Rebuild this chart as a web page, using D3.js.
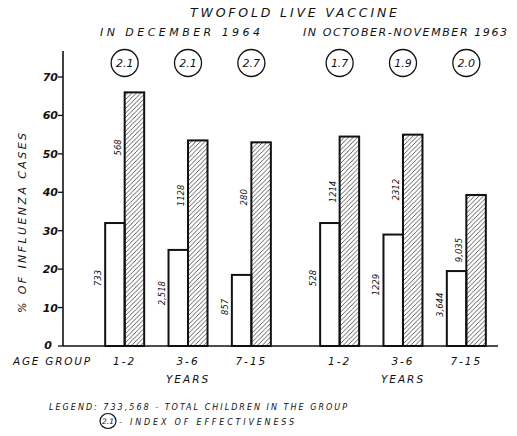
<!DOCTYPE html>
<html>
<head>
<meta charset="utf-8">
<script src="https://cdn.jsdelivr.net/npm/d3@7"></script>
<style>
  body { margin: 0; background: #fff; }
  svg text { font-family: "DejaVu Sans", sans-serif; font-style: italic; fill: #111; }
</style>
</head>
<body>
<div id="chart"></div>
<script>
// values
var campaigns = ["IN DECEMBER 1964", "IN OCTOBER-NOVEMBER 1963"];
var ageGroups = ["1-2", "3-6", "7-15"];
var vaccinatedPct = [[32, 25, 18.5], [32, 29, 19.5]];
var controlPct = [[66, 53.5, 53], [54.5, 55, 39.3]];
var vaccinatedN = [["733", "2,518", "857"], ["528", "1229", "3,644"]];
var controlN = [["568", "1128", "280"], ["1214", "2312", "9,035"]];
var effIndex = [["2.1", "2.1", "2.7"], ["1.7", "1.9", "2.0"]];
var yTicks = [0, 10, 20, 30, 40, 50, 60, 70];

var width = 517, height = 436;
var svg = d3.select("#chart").append("svg")
    .attr("width", width)
    .attr("height", height);

var axisX = 63, baseY = 346;

var y = d3.scaleLinear()
    .domain([0, 70])
    .range([baseY, 77]);

var x0 = d3.scaleBand()
    .domain(campaigns)
    .range([93, 498])
    .paddingInner(0.116);

var x1 = d3.scaleBand()
    .domain(ageGroups)
    .range([0, x0.bandwidth()]);

var barW = 19.5;

// hatch pattern
svg.append("defs").append("pattern")
    .attr("id", "hatch")
    .attr("patternUnits", "userSpaceOnUse")
    .attr("width", 4.5)
    .attr("height", 4.5)
  .append("path")
    .attr("d", "M-1,1 l2,-2 M0,4.5 l4.5,-4.5 M3.5,5.5 l2,-2")
    .attr("stroke", "#333")
    .attr("stroke-width", 0.8);

// flatten
var items = [];
campaigns.forEach(function(c, ci) {
  ageGroups.forEach(function(a, ai) {
    items.push({
      campaign: c, age: a,
      cx: x0(c) + x1(a) + x1.bandwidth() / 2,
      vac: vaccinatedPct[ci][ai], ctl: controlPct[ci][ai],
      vacN: vaccinatedN[ci][ai], ctlN: controlN[ci][ai],
      idx: effIndex[ci][ai]
    });
  });
});

// y axis
svg.append("line")
    .attr("x1", axisX).attr("x2", axisX)
    .attr("y1", y(0)).attr("y2", 51)
    .attr("stroke", "#111").attr("stroke-width", 1.6);

svg.selectAll(".ytick").data(yTicks).enter().append("line")
    .attr("class", "ytick")
    .attr("x1", axisX - 5).attr("x2", axisX)
    .attr("y1", function(d) { return y(d); })
    .attr("y2", function(d) { return y(d); })
    .attr("stroke", "#111").attr("stroke-width", 1.3);

svg.selectAll(".ylab").data(yTicks).enter().append("text")
    .attr("class", "ylab")
    .attr("x", function(d) { return d === 0 ? axisX - 11 : axisX - 5; })
    .attr("y", function(d) { return y(d) + (d === 0 ? 3 : 4); })
    .attr("text-anchor", "end")
    .attr("font-size", 11)
    .attr("font-weight", "bold")
    .text(function(d) { return d; });

svg.append("text")
    .attr("transform", "translate(26,223) rotate(-90)")
    .attr("text-anchor", "middle")
    .attr("font-size", 11)
    .attr("textLength", 180)
    .attr("lengthAdjust", "spacing")
    .text("% OF INFLUENZA CASES");

// bars
var g = svg.selectAll(".grp").data(items).enter().append("g").attr("class", "grp");

g.append("rect")
    .attr("x", function(d) { return d.cx - barW; })
    .attr("y", function(d) { return y(d.vac); })
    .attr("width", barW)
    .attr("height", function(d) { return y(0) - y(d.vac); })
    .attr("fill", "#fff")
    .attr("stroke", "#111").attr("stroke-width", 2);

g.append("rect")
    .attr("x", function(d) { return d.cx; })
    .attr("y", function(d) { return y(d.ctl); })
    .attr("width", barW)
    .attr("height", function(d) { return y(0) - y(d.ctl); })
    .attr("fill", "url(#hatch)")
    .attr("stroke", "#111").attr("stroke-width", 2);

function labOff(v) {
  var h = y(0) - y(v);
  return Math.min(55, h * 0.45);
}

g.append("text")
    .attr("transform", function(d) {
      return "translate(" + (d.cx - barW - 4) + "," + (y(d.vac) + labOff(d.vac)) + ") rotate(-90)";
    })
    .attr("text-anchor", "middle")
    .attr("font-size", 8.5)
    .text(function(d) { return d.vacN; });

g.append("text")
    .attr("transform", function(d) {
      return "translate(" + (d.cx - 4) + "," + (y(d.ctl) + labOff(d.ctl)) + ") rotate(-90)";
    })
    .attr("text-anchor", "middle")
    .attr("font-size", 8.5)
    .text(function(d) { return d.ctlN; });

// index circles
g.append("ellipse")
    .attr("cx", function(d) { return d.cx; })
    .attr("cy", 63)
    .attr("rx", 13.5).attr("ry", 13.5)
    .attr("fill", "none").attr("stroke", "#111").attr("stroke-width", 1.3);

g.append("text")
    .attr("x", function(d) { return d.cx; })
    .attr("y", 67)
    .attr("text-anchor", "middle")
    .attr("font-size", 11)
    .text(function(d) { return d.idx; });

// age labels
g.append("text")
    .attr("x", function(d) { return d.cx; })
    .attr("y", 365)
    .attr("text-anchor", "middle")
    .attr("font-size", 10.5)
    .attr("letter-spacing", 2)
    .text(function(d) { return d.age; });

// baseline
svg.append("line")
    .attr("x1", axisX).attr("x2", 498)
    .attr("y1", y(0)).attr("y2", y(0))
    .attr("stroke", "#111").attr("stroke-width", 1.6);

svg.append("text")
    .attr("x", 13).attr("y", 365)
    .attr("font-size", 10.5)
    .attr("textLength", 77)
    .attr("lengthAdjust", "spacing")
    .text("AGE GROUP");

svg.selectAll(".years").data(campaigns).enter().append("text")
    .attr("x", function(d) { return x0(d) + x0.bandwidth() / 2; })
    .attr("y", 383)
    .attr("text-anchor", "middle")
    .attr("font-size", 10.5)
    .attr("letter-spacing", 2)
    .text("YEARS");

// titles
svg.append("text")
    .attr("x", 190).attr("y", 17)
    .attr("font-size", 12.5)
    .attr("textLength", 207)
    .attr("lengthAdjust", "spacing")
    .text("TWOFOLD LIVE VACCINE");

svg.selectAll(".camp").data(campaigns).enter().append("text")
    .attr("x", function(d, i) { return i === 0 ? 100 : 303; })
    .attr("y", 36)
    .attr("font-size", 11)
    .attr("textLength", function(d, i) { return i === 0 ? 160 : 204; })
    .attr("lengthAdjust", "spacing")
    .text(function(d) { return d; });

// legend
svg.append("text")
    .attr("x", 49).attr("y", 410)
    .attr("font-size", 8)
    .attr("textLength", 298)
    .attr("lengthAdjust", "spacing")
    .text("LEGEND:  733,568 - TOTAL CHILDREN IN THE GROUP");

svg.append("ellipse")
    .attr("cx", 108).attr("cy", 421)
    .attr("rx", 8).attr("ry", 7.5)
    .attr("fill", "none").attr("stroke", "#111").attr("stroke-width", 1.2);
svg.append("text")
    .attr("x", 108).attr("y", 424)
    .attr("text-anchor", "middle")
    .attr("font-size", 7.5)
    .text("2.1");
svg.append("text")
    .attr("x", 119).attr("y", 425)
    .attr("font-size", 8)
    .attr("textLength", 175)
    .attr("lengthAdjust", "spacing")
    .text("- INDEX OF EFFECTIVENESS");
</script>
</body>
</html>
